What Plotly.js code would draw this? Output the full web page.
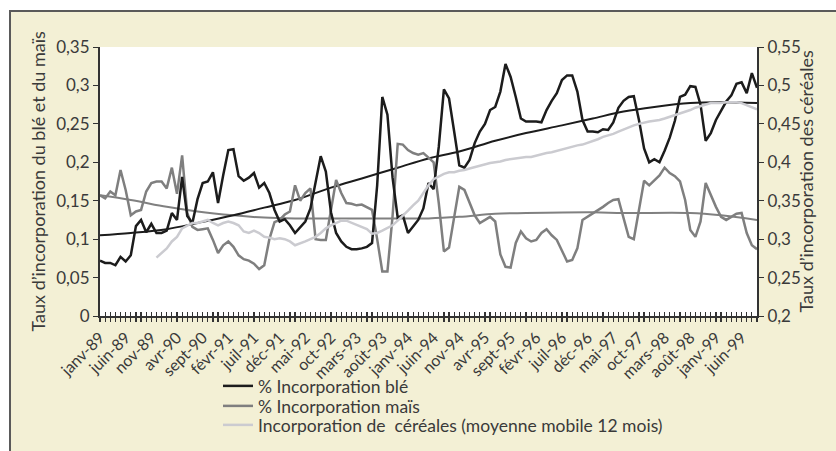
<!DOCTYPE html>
<html><head><meta charset="utf-8">
<script src="https://cdn.plot.ly/plotly-3.0.1.min.js"></script>
<style>
html,body{margin:0;padding:0;background:#fff;width:836px;height:451px;overflow:hidden;}
#frame{position:absolute;left:9px;top:10px;width:900px;height:500px;background:#f3f0d5;border-left:2px solid #5a5a5a;border-top:2px solid #5a5a5a;}
#chart{position:absolute;left:0;top:0;width:836px;height:451px;}
</style></head><body><div id="frame"></div><div id="chart"></div>
<script>
// Monthly data, janv-89 .. sept-99 (129 months)
const monthNames = ['janv','févr','mars','avr','mai','juin','juil','août','sept','oct','nov','déc'];
const years = ['89','90','91','92','93','94','95','96','97','98','99'];
const tickLabels = ['janv-89','juin-89','nov-89','avr-90','sept-90','févr-91','juil-91','déc-91','mai-92','oct-92',
  'mars-93','août-93','janv-94','juin-94','nov-94','avr-95','sept-95','févr-96','juil-96','déc-96',
  'mai-97','oct-97','mars-98','août-98','janv-99','juin-99'];

const ble = [0.072,0.069,0.069,0.066,0.077,0.071,0.079,0.117,0.125,0.109,0.120,0.108,0.108,0.111,0.134,0.125,0.181,0.130,0.121,0.152,
  0.173,0.175,0.187,0.147,0.183,0.216,0.217,0.182,0.176,0.180,0.186,0.167,0.173,0.160,0.138,0.123,0.126,0.118,0.108,0.116,
  0.123,0.140,0.173,0.208,0.188,0.135,0.108,0.097,0.090,0.087,0.087,0.088,0.090,0.095,0.170,0.285,0.262,0.180,0.128,0.131,
  0.108,0.116,0.125,0.140,0.173,0.165,0.220,0.295,0.283,0.240,0.196,0.193,0.203,0.225,0.240,0.250,0.268,0.272,0.292,0.328,
  0.311,0.285,0.257,0.253,0.253,0.253,0.252,0.268,0.280,0.290,0.307,0.313,0.313,0.292,0.255,0.240,0.240,0.239,0.243,0.242,
  0.252,0.271,0.280,0.285,0.286,0.255,0.218,0.200,0.204,0.200,0.215,0.232,0.254,0.285,0.288,0.299,0.298,0.275,0.228,0.238,
  0.255,0.268,0.279,0.287,0.302,0.304,0.290,0.316,0.297];

const mais = [0.157,0.153,0.162,0.157,0.190,0.164,0.131,0.136,0.138,0.162,0.173,0.175,0.175,0.166,0.193,0.159,0.209,0.134,0.116,0.112,
  0.113,0.114,0.099,0.082,0.092,0.097,0.090,0.079,0.074,0.072,0.068,0.061,0.066,0.100,0.122,0.125,0.132,0.136,0.170,0.150,
  0.160,0.166,0.100,0.099,0.099,0.140,0.177,0.160,0.147,0.146,0.144,0.145,0.142,0.138,0.100,0.058,0.058,0.130,0.224,0.223,
  0.216,0.212,0.210,0.212,0.206,0.200,0.147,0.084,0.089,0.129,0.168,0.164,0.147,0.131,0.121,0.125,0.129,0.123,0.080,0.064,
  0.063,0.095,0.110,0.101,0.097,0.099,0.108,0.113,0.105,0.099,0.084,0.071,0.073,0.088,0.125,0.129,0.134,0.138,0.142,0.147,
  0.151,0.152,0.128,0.103,0.100,0.138,0.176,0.170,0.177,0.183,0.193,0.186,0.182,0.175,0.151,0.112,0.103,0.123,0.173,0.157,
  0.142,0.129,0.125,0.129,0.133,0.134,0.108,0.092,0.087];

const cereales = [null,null,null,null,null,null,null,null,null,null,null,
  0.276,0.282,0.288,0.297,0.303,0.314,0.318,0.321,0.321,0.323,0.325,0.321,0.318,0.321,0.323,0.321,0.318,0.310,0.308,
  0.311,0.308,0.303,0.302,0.300,0.301,0.300,0.297,0.292,0.294,0.297,0.300,0.303,0.308,0.314,0.318,0.321,0.324,0.324,0.321,
  0.319,0.316,0.313,0.307,0.308,0.311,0.314,0.318,0.324,0.330,0.337,0.344,0.350,0.360,0.370,0.378,0.382,0.385,0.387,0.387,
  0.389,0.390,0.392,0.394,0.396,0.397,0.399,0.400,0.401,0.403,0.404,0.405,0.406,0.407,0.407,0.409,0.411,0.412,0.413,0.415,
  0.417,0.419,0.421,0.422,0.423,0.425,0.428,0.430,0.433,0.435,0.437,0.440,0.443,0.446,0.448,0.450,0.452,0.453,0.454,0.455,
  0.457,0.459,0.461,0.463,0.465,0.468,0.471,0.473,0.475,0.477,0.477,0.477,0.478,0.478,0.478,0.477,0.474,0.471,0.469];

// Trend curves read at sample months (index into the monthly series)
const bleTrendMonth = [0,6,13,19,26,32,38,45,51,58,64,70,77,83,90,96,102,108,115,121,128];
const bleTrend = [0.105,0.108,0.113,0.121,0.131,0.141,0.151,0.167,0.179,0.193,0.205,0.214,0.228,0.238,0.248,0.257,0.266,0.272,0.277,0.278,0.277];
const maisTrendMonth = [0,6,13,19,26,32,38,51,64,70,77,83,96,102,115,121,128];
const maisTrend = [0.157,0.151,0.142,0.136,0.131,0.128,0.127,0.127,0.127,0.129,0.133,0.134,0.135,0.134,0.134,0.131,0.125];

const months = [];
years.forEach(y => monthNames.forEach(m => { if (months.length < ble.length) months.push(m + '-' + y); }));
const idx = months.map((_, i) => i);
const tickIdx = tickLabels.map(l => months.indexOf(l));

const FONT = 'Lato, "Open Sans", sans-serif';
const TXT = '#3a3a3a';

const traces = [
  {x: maisTrendMonth, y: maisTrend, mode: 'lines', line: {color: '#808080', width: 2, shape: 'spline'}, showlegend: false, hoverinfo: 'skip'},
  {x: bleTrendMonth, y: bleTrend, mode: 'lines', line: {color: '#1c1c1c', width: 2, shape: 'spline'}, showlegend: false, hoverinfo: 'skip'},
  {x: idx, y: cereales, name: 'Incorporation de  céréales (moyenne mobile 12 mois)', yaxis: 'y2', mode: 'lines',
   line: {color: '#cbcbd0', width: 2.5}, legend: 'legend3'},
  {x: idx, y: mais, name: '% Incorporation maïs', mode: 'lines', line: {color: '#7f7f7f', width: 2.5}, legend: 'legend2'},
  {x: idx, y: ble, name: '% Incorporation blé', mode: 'lines', line: {color: '#1c1c1c', width: 2.5}, legend: 'legend'},
  {x: [0], y: [null], xaxis: 'x2', showlegend: false, hoverinfo: 'skip'}
];

const legendAt = (yc) => ({x: (218 - 100) / 657, xanchor: 'left', y: (316 - yc) / 269, yanchor: 'middle',
  font: {family: FONT, size: 17.5, color: TXT}, bgcolor: 'rgba(0,0,0,0)'});

const layout = {
  width: 836, height: 451,
  margin: {l: 100, r: 79, t: 47, b: 135, autoexpand: false},
  paper_bgcolor: 'rgba(0,0,0,0)', plot_bgcolor: '#ffffff',
  separators: ', ',
  font: {family: FONT, color: TXT, size: 16},
  showlegend: true,
  legend: legendAt(386),
  legend2: legendAt(406),
  legend3: legendAt(425),
  xaxis: {range: [0, ble.length - 1], tickmode: 'array', tickvals: tickIdx, ticktext: tickLabels, tickangle: -45,
    automargin: false,
    ticks: 'outside', ticklen: 4, tickwidth: 1.2, tickcolor: '#333',
    minor: {tickmode: 'linear', tick0: 0, dtick: 1, ticks: 'outside', ticklen: 4, tickwidth: 1.2, tickcolor: '#333'},
    showline: true, linecolor: '#333', linewidth: 2, showgrid: false, zeroline: false,
    tickfont: {family: FONT, size: 16, color: TXT}},
  xaxis2: {overlaying: 'x', anchor: 'y', range: [0, ble.length - 1], tickmode: 'linear', tick0: 0, dtick: 1,
    automargin: false,
    ticks: 'inside', ticklen: 4, tickwidth: 1.2, tickcolor: '#333', showticklabels: false, showline: false,
    showgrid: false, zeroline: false, side: 'bottom'},
  yaxis: {range: [0, 0.35], dtick: 0.05, tick0: 0, ticks: 'outside', ticklen: 5, tickcolor: '#333', automargin: false,
    showline: true, linecolor: '#333', linewidth: 2, showgrid: false, zeroline: false,
    tickfont: {family: FONT, size: 17, color: TXT}},
  yaxis2: {overlaying: 'y', side: 'right', range: [0.2, 0.55], dtick: 0.05, tick0: 0.2, ticks: 'outside', ticklen: 5,
    automargin: false,
    tickcolor: '#333', showline: true, linecolor: '#333', linewidth: 2, showgrid: false, zeroline: false,
    tickfont: {family: FONT, size: 17, color: TXT}},
  annotations: [
    {text: 'Taux d’incorporation du blé et du maïs', xref: 'paper', yref: 'paper', x: (37 - 100) / 657, y: 0.5,
     textangle: -90, showarrow: false, xanchor: 'center', yanchor: 'middle', font: {family: FONT, size: 18, color: TXT}},
    {text: 'Taux d’incorporation des céréales', xref: 'paper', yref: 'paper', x: (805 - 100) / 657, y: 0.5,
     textangle: -90, showarrow: false, xanchor: 'center', yanchor: 'middle', font: {family: FONT, size: 18, color: TXT}}
  ]
};

Plotly.newPlot('chart', traces, layout, {staticPlot: true, displayModeBar: false});
</script></body></html>
